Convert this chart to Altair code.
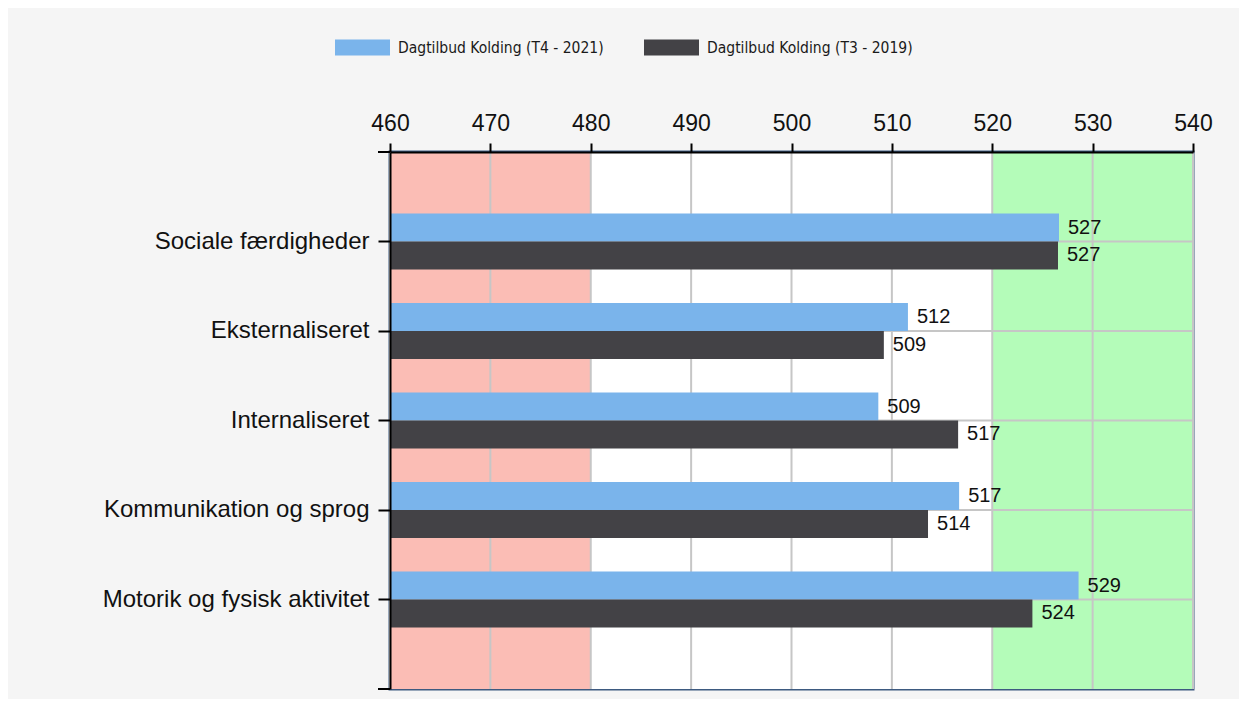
import altair as alt
import pandas as pd

# ---- data ----
categories = ["Sociale færdigheder", "Eksternaliseret", "Internaliseret",
              "Kommunikation og sprog", "Motorik og fysisk aktivitet"]
series = ["Dagtilbud Kolding (T4 - 2021)", "Dagtilbud Kolding (T3 - 2019)"]
values_2021 = [526.65, 511.6, 508.65, 516.7, 528.6]
values_2019 = [526.55, 509.2, 516.6, 513.6, 524.0]
x_ticks = [460, 470, 480, 490, 500, 510, 520, 530, 540]
zone_names = ["under", "middel", "over"]
zone_start = [460, 480, 520]
zone_end = [480, 520, 540]
axis_min = 460
axis_max = 540

BLUE = "#7ab4eb"
DARK = "#434246"
PINK = "#fbbdb5"
WHITE = "#ffffff"
GREEN = "#b4fcb9"
GRID = "#c6c6c6"
W, H = 803, 537

rows = []
for c, v1, v2 in zip(categories, values_2021, values_2019):
    rows.append({"category": c, "series": series[0], "value": v1})
    rows.append({"category": c, "series": series[1], "value": v2})
df = pd.DataFrame(rows)
zones = pd.DataFrame({"zone": zone_names, "start": zone_start, "end": zone_end})
ticks = pd.DataFrame({"tick": x_ticks})
cats = pd.DataFrame({"category": categories})

xscale = alt.Scale(domain=[axis_min, axis_max], nice=False, zero=False)
yscale = alt.Scale(paddingInner=0.375, paddingOuter=0.6875)

x_axis = alt.Axis(orient="top", values=x_ticks, format="d", title=None,
                  domainColor="#000", domainWidth=2, tickColor="#000", tickWidth=2,
                  tickSize=9, labelFont="Liberation Sans", labelFontSize=23,
                  labelColor="#111", labelPadding=8, labelFlush=False,
                  grid=False, zindex=1)
y_axis = alt.Axis(title=None, domainColor="#000", domainWidth=2, tickColor="#000",
                  tickWidth=2, tickSize=12, labelFont="Liberation Sans",
                  labelFontSize=24, labelColor="#111", labelPadding=9,
                  labelLimit=500, grid=False, zindex=1)

zone_layer = alt.Chart(zones).mark_rect().encode(
    x=alt.X("start:Q", scale=xscale, axis=x_axis),
    x2="end:Q",
    color=alt.Color("zone:N", scale=alt.Scale(domain=zone_names, range=[PINK, WHITE, GREEN]),
                    legend=None),
)

vgrid = alt.Chart(ticks).mark_rule(color=GRID, strokeWidth=2).encode(
    x=alt.X("tick:Q", scale=xscale)
)

hgrid = alt.Chart(cats).mark_rule(color=GRID, strokeWidth=2).encode(
    y=alt.Y("category:N", sort=categories, scale=yscale, axis=y_axis)
)

bars = alt.Chart(df).mark_bar().encode(
    y=alt.Y("category:N", sort=categories, scale=yscale, axis=y_axis),
    yOffset=alt.YOffset("series:N", sort=series, scale=alt.Scale(paddingInner=0)),
    x=alt.X("value:Q", scale=xscale),
    x2=alt.datum(axis_min),
    color=alt.Color("series:N", sort=series, title=None,
                    scale=alt.Scale(domain=series, range=[BLUE, DARK]),
                    legend=alt.Legend(orient="none", legendX=-55, legendY=-132,
                                      direction="horizontal",
                                      symbolType="M-1,-0.29H1V0.29H-1Z",
                                      symbolSize=3025, symbolStrokeWidth=0,
                                      labelFont="DejaVu Sans Condensed, sans-serif",
                                      labelFontSize=15.5, labelColor="#1a1a1a",
                                      labelOffset=8, columnPadding=40, labelLimit=500)),
)

labels = alt.Chart(df).mark_text(align="left", baseline="middle", dx=9,
                                 font="Liberation Sans", fontSize=20, color="#111").encode(
    y=alt.Y("category:N", sort=categories, scale=yscale),
    yOffset=alt.YOffset("series:N", sort=series, scale=alt.Scale(paddingInner=0)),
    x=alt.X("value:Q", scale=xscale),
    text=alt.Text("value:Q", format=".0f"),
)

ext = alt.Chart(cats).mark_rule(color="#000", strokeWidth=2)
ext_top = ext.encode(x=alt.value(-12), x2=alt.value(0), y=alt.value(0))
ext_bot = ext.encode(x=alt.value(-12), x2=alt.value(0), y=alt.value(H))

chart = alt.layer(zone_layer, vgrid, hgrid, bars, labels, ext_top, ext_bot).resolve_scale(
    color="independent"
).properties(
    width=W, height=H,
    autosize=alt.AutoSizeParams(type="none"),
    padding={"left": 382, "top": 144, "right": 46, "bottom": 10},
    background="#f5f5f5",
).configure_view(stroke="#3d5a80", strokeWidth=3)

chart.save("out.html", embed_options={"renderer": "svg", "actions": False})
